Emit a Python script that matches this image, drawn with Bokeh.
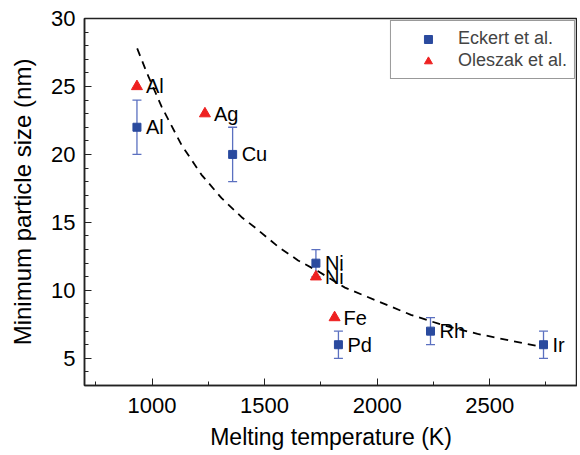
from bokeh.plotting import figure
from bokeh.models import (ColumnDataSource, Whisker, TeeHead, SingleIntervalTicker,
                          Legend, LegendItem, Range1d)
from bokeh.core.properties import value
from bokeh.embed import file_html
from bokeh.resources import INLINE

# Eckert et al. (squares with error bars)
eck_el = ["Al", "Cu", "Ni", "Pd", "Rh", "Ir"]
eck_t = [933, 1358, 1728, 1828, 2237, 2739]
eck_d = [22, 20, 12, 6, 7, 6]
eck_lo = [20, 18, 11, 5, 6, 5]
eck_hi = [24, 22, 13, 7, 8, 7]

# Oleszak et al. (triangles)
ole_el = ["Al", "Ag", "Ni", "Fe"]
ole_t = [933, 1235, 1728, 1811]
ole_d = [25, 23, 11, 8]

# dashed trend curve
fit_t = [934, 977, 1043, 1131, 1220, 1308, 1397, 1459, 1561, 1649, 1738,
         1857, 2003, 2150, 2300, 2446, 2592, 2698, 2739]
fit_d = [27.8, 26.0, 23.5, 20.7, 18.5, 16.8, 15.4, 14.6, 13.2, 12.2, 11.4,
         10.2, 9.2, 8.2, 7.4, 6.8, 6.3, 5.95, 5.8]

FONT = value("Liberation Sans")
SQ = "#2a4a9e"
ERR = "#5b70c0"
RED = "#ee2020"

p = figure(width=577, height=452, output_backend="svg", toolbar_location=None,
           x_range=Range1d(700, 2890), y_range=Range1d(3, 30),
           min_border_left=84, min_border_top=18, min_border_right=0,
           min_border_bottom=67)
p.grid.visible = False
p.outline_line_color = "#222222"
p.outline_line_width = 1.5
p.background_fill_color = "white"
p.border_fill_color = "white"

p.xaxis.ticker = SingleIntervalTicker(interval=500, num_minor_ticks=2)
p.yaxis.ticker = SingleIntervalTicker(interval=5, num_minor_ticks=5)
for ax in (p.xaxis[0], p.yaxis[0]):
    ax.major_tick_in = 7
    ax.major_tick_out = 0
    ax.minor_tick_in = 4
    ax.minor_tick_out = 0
    ax.axis_line_color = "#222222"
    ax.axis_line_width = 1.5
    ax.major_tick_line_color = "#222222"
    ax.minor_tick_line_color = "#222222"
    ax.major_label_text_font = "Liberation Sans"
    ax.major_label_text_font_size = "22px"
    ax.major_label_text_color = "black"
    ax.axis_label_text_font = "Liberation Sans"
    ax.axis_label_text_font_style = "normal"
    ax.axis_label_text_color = "black"
p.xaxis.axis_label = "Melting temperature (K)"
p.yaxis.axis_label = "Minimum particle size (nm)"
p.xaxis.axis_label_text_font_size = "23px"
p.yaxis.axis_label_text_font_size = "24px"
p.xaxis.major_label_standoff = 12
p.yaxis.major_label_standoff = 9
p.xaxis.axis_label_standoff = 8
p.yaxis.axis_label_standoff = 12

# trend curve
p.line(fit_t, fit_d, line_color="black", line_width=1.8, line_dash="8 6")

esrc = ColumnDataSource(dict(x=eck_t, y=eck_d, lo=eck_lo, hi=eck_hi, el=eck_el))
osrc = ColumnDataSource(dict(x=ole_t, y=ole_d, el=ole_el))

wh = Whisker(source=esrc, base="x", upper="hi", lower="lo", dimension="height",
             line_color=ERR, line_width=1.3,
             upper_head=TeeHead(size=9, line_color=ERR, line_width=1.3),
             lower_head=TeeHead(size=9, line_color=ERR, line_width=1.3))
p.add_layout(wh)

r_eck = p.scatter("x", "y", source=esrc, marker="square", size=8,
                  fill_color=SQ, line_color=SQ)
r_ole = p.scatter("x", "y", source=osrc, marker="triangle", size=11,
                  fill_color=RED, line_color=RED)

for src in (esrc, osrc):
    p.text("x", "y", text="el", source=src, x_offset=9, text_baseline="middle",
           text_align="left", text_font=FONT, text_font_size="20px",
           text_color="black")

legend = Legend(items=[LegendItem(label="Eckert et al.", renderers=[r_eck]),
                       LegendItem(label="Oleszak et al.", renderers=[r_ole])],
                location="top_right", margin=2, padding=7, spacing=1,
                glyph_width=60, glyph_height=20, label_standoff=0,
                label_height=20,
                label_text_font="Liberation Sans", label_text_font_size="18px",
                border_line_color="#333333", border_line_width=1.2,
                background_fill_alpha=1)
p.add_layout(legend)

open("out.html", "w").write(file_html(p, INLINE))
